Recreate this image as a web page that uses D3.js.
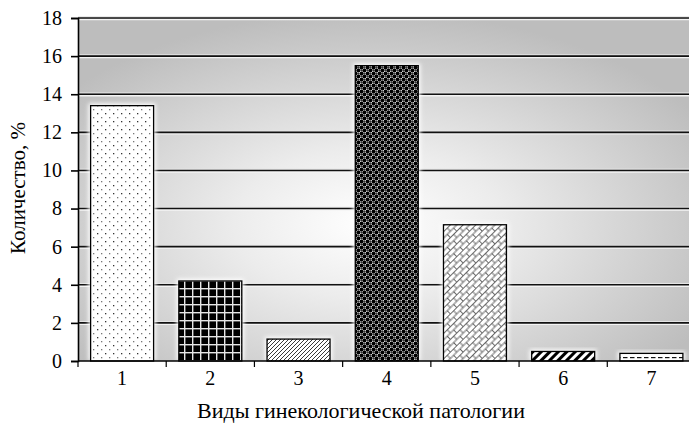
<!DOCTYPE html>
<html>
<head>
<meta charset="utf-8">
<script src="https://cdn.jsdelivr.net/npm/d3@7/dist/d3.min.js"></script>
<style>
  html, body { margin: 0; padding: 0; background: #ffffff; }
  svg { display: block; }
  text { font-family: "Liberation Serif", "DejaVu Serif", serif; fill: #000; }
</style>
</head>
<body>
<svg id="chart" width="689" height="430"></svg>
<script>
// Types of gynecological pathology and their share, %
const categories = ["1", "2", "3", "4", "5", "6", "7"];
const values = [13.4, 4.2, 1.15, 15.5, 7.15, 0.5, 0.4];
const yTicks = [0, 2, 4, 6, 8, 10, 12, 14, 16, 18];
const xTitle = "Виды гинекологической патологии";
const yTitle = "Количество, %";

// Fill pattern for each bar, in category order
const barFills = ["dots", "grid", "hatch", "balls", "weave", "stripes", "dashes"];

const plotLeft = 78, plotTop = 18, plotBottom = 361, plotRight = 695.5;

const svg = d3.select("#chart");
const defs = svg.append("defs");

// Plot background: radial light-to-grey gradient
const grad = defs.append("radialGradient")
  .attr("id", "bg").attr("cx", 0.47).attr("cy", 0.6).attr("r", 0.62)
  .attr("fx", 0.47).attr("fy", 0.6);
grad.append("stop").attr("offset", "0%").attr("stop-color", "#ffffff");
grad.append("stop").attr("offset", "35%").attr("stop-color", "#ececec");
grad.append("stop").attr("offset", "100%").attr("stop-color", "#bdbdbd");

// Soft white glow behind bars
const glow = defs.append("filter").attr("id", "glow")
  .attr("x", "-20%").attr("y", "-20%").attr("width", "140%").attr("height", "140%");
glow.append("feGaussianBlur").attr("stdDeviation", 2.2);

function pattern(id, w, h) {
  return defs.append("pattern").attr("id", id)
    .attr("patternUnits", "userSpaceOnUse").attr("width", w).attr("height", h);
}

// 1: sparse dots
{
  const p = pattern("dots", 8, 8);
  p.append("rect").attr("width", 8).attr("height", 8).attr("fill", "#fff");
  p.append("rect").attr("x", 1).attr("y", 1).attr("width", 1.3).attr("height", 1.3).attr("fill", "#333");
  p.append("rect").attr("x", 5).attr("y", 5).attr("width", 1.3).attr("height", 1.3).attr("fill", "#777");
}
// 2: black with light grid
{
  const p = pattern("grid", 8, 8);
  p.append("rect").attr("width", 8).attr("height", 8).attr("fill", "#000");
  p.append("rect").attr("x", 0).attr("y", 0).attr("width", 8).attr("height", 1.4).attr("fill", "#e8e8e8");
  p.append("rect").attr("x", 0).attr("y", 0).attr("width", 1.4).attr("height", 8).attr("fill", "#e8e8e8");
}
// 3: fine forward hatch
{
  const p = pattern("hatch", 4, 4);
  p.append("rect").attr("width", 4).attr("height", 4).attr("fill", "#fff");
  p.append("path").attr("d", "M-1,1 L1,-1 M0,4 L4,0 M3,5 L5,3")
    .attr("stroke", "#222").attr("stroke-width", 0.9);
}
// 4: dark balls with white gaps
{
  const p = pattern("balls", 6, 6);
  p.append("rect").attr("width", 6).attr("height", 6).attr("fill", "#fff");
  p.append("circle").attr("cx", 1.5).attr("cy", 1.5).attr("r", 2).attr("fill", "#000");
  p.append("circle").attr("cx", 4.5).attr("cy", 4.5).attr("r", 2).attr("fill", "#000");
  p.append("circle").attr("cx", 4.5).attr("cy", 1.5).attr("r", 1.2).attr("fill", "#333");
  p.append("circle").attr("cx", 1.5).attr("cy", 4.5).attr("r", 1.2).attr("fill", "#333");
}
// 5: diagonal weave
{
  const p = pattern("weave", 9, 9).attr("patternTransform", "rotate(-45)");
  p.append("rect").attr("width", 9).attr("height", 9).attr("fill", "#fff");
  p.append("path").attr("d", "M0,0.5 H9 M0,5 H9 M2,0.5 V5 M6.5,5 V9.5")
    .attr("stroke", "#444").attr("stroke-width", 0.8).attr("fill", "none");
}
// 6: bold back-slash stripes
{
  const p = pattern("stripes", 6, 6).attr("patternTransform", "rotate(45)");
  p.append("rect").attr("width", 6).attr("height", 6).attr("fill", "#fff");
  p.append("rect").attr("x", 0).attr("y", 0).attr("width", 3).attr("height", 6).attr("fill", "#000");
}
// 7: horizontal dashes
{
  const p = pattern("dashes", 7, 5);
  p.append("rect").attr("width", 7).attr("height", 5).attr("fill", "#fff");
  p.append("rect").attr("x", 0).attr("y", 2).attr("width", 4.5).attr("height", 1.2).attr("fill", "#111");
}

const x = d3.scaleBand().domain(categories).range([plotLeft, plotRight])
  .paddingInner(0.286).paddingOuter(0.143);
const y = d3.scaleLinear().domain([0, 18]).range([plotBottom, plotTop]);

// Plot background
svg.append("rect").attr("x", plotLeft).attr("y", plotTop)
  .attr("width", plotRight - plotLeft).attr("height", plotBottom - plotTop)
  .attr("fill", "url(#bg)");

// Gridlines: light highlight with dark rule
const grid = svg.append("g");
yTicks.filter(t => t > 0).forEach(t => {
  grid.append("line").attr("x1", plotLeft).attr("x2", plotRight)
    .attr("y1", y(t) + 1.2).attr("y2", y(t) + 1.2)
    .attr("stroke", "#f4f4f4").attr("stroke-width", 2);
  grid.append("line").attr("x1", plotLeft).attr("x2", plotRight)
    .attr("y1", y(t) - 1.3).attr("y2", y(t) - 1.3)
    .attr("stroke", "#e6e6e6").attr("stroke-width", 1);
  grid.append("line").attr("x1", plotLeft).attr("x2", plotRight)
    .attr("y1", y(t)).attr("y2", y(t))
    .attr("stroke", "#111").attr("stroke-width", 1.6);
});

// Bars
const bars = svg.append("g");
bars.selectAll("rect.halo").data(values).join("rect").attr("class", "halo")
  .attr("x", (d, i) => x(categories[i]) - 2)
  .attr("y", d => y(d) - 2)
  .attr("width", x.bandwidth() + 4)
  .attr("height", d => y(0) - y(d) + 2)
  .attr("fill", "#ffffff").attr("filter", "url(#glow)");
bars.selectAll("rect.bar").data(values).join("rect").attr("class", "bar")
  .attr("x", (d, i) => x(categories[i]))
  .attr("y", d => y(d))
  .attr("width", x.bandwidth())
  .attr("height", d => y(0) - y(d))
  .attr("fill", (d, i) => `url(#${barFills[i]})`)
  .attr("stroke", "#000").attr("stroke-width", 1.3);

// Y axis
const yAxis = svg.append("g").attr("transform", `translate(${plotLeft},0)`)
  .call(d3.axisLeft(y).tickValues(yTicks).tickSize(7).tickPadding(9).tickFormat(d3.format("d")));
yAxis.select(".domain").attr("stroke", "#000").attr("stroke-width", 1.6);
yAxis.selectAll(".tick line").attr("stroke", "#000").attr("stroke-width", 1.6);
yAxis.selectAll(".tick text").style("font-family", "Liberation Serif").attr("font-size", 20).attr("fill", "#000");

// X axis line and boundary ticks
const xAxis = svg.append("g");
xAxis.append("line").attr("x1", plotLeft).attr("x2", plotRight)
  .attr("y1", plotBottom).attr("y2", plotBottom).attr("stroke", "#000").attr("stroke-width", 1.3);
const step = x.step();
d3.range(categories.length + 1).forEach(k => {
  const bx = x(categories[0]) - x.paddingOuter() * step + k * step;
  xAxis.append("line").attr("x1", bx).attr("x2", bx)
    .attr("y1", plotBottom).attr("y2", plotBottom + 6).attr("stroke", "#000").attr("stroke-width", 1.2);
});
const xLabels = svg.append("g").attr("transform", `translate(0,${plotBottom})`)
  .call(d3.axisBottom(x).tickSize(0).tickPadding(10));
xLabels.select(".domain").remove();
xLabels.selectAll(".tick text").style("font-family", "Liberation Serif").attr("font-size", 20).attr("fill", "#000");

// Axis titles
svg.append("text").attr("x", 361).attr("y", 418).attr("text-anchor", "middle")
  .attr("font-size", 22).text(xTitle);
svg.append("text").attr("transform", "translate(25,188) rotate(-90)")
  .attr("text-anchor", "middle").attr("font-size", 21).text(yTitle);
</script>
</body>
</html>
